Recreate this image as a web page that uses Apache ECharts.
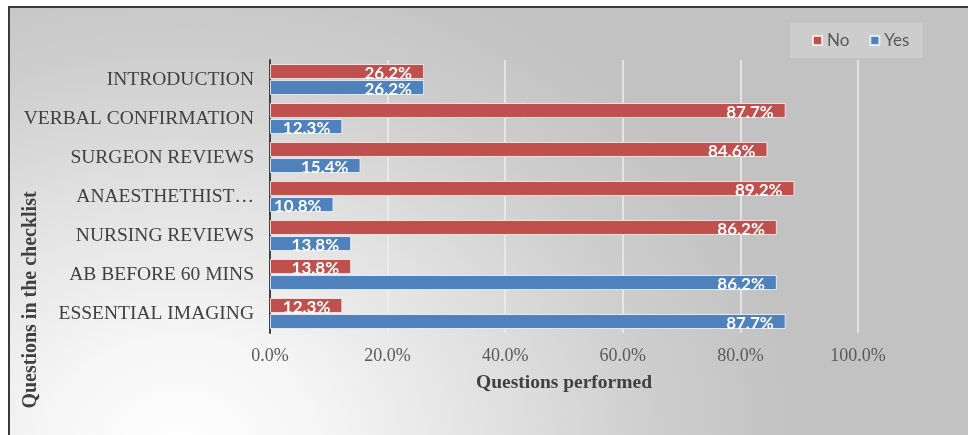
<!DOCTYPE html>
<html>
<head>
<meta charset="utf-8">
<script src="https://cdn.jsdelivr.net/npm/echarts@6/dist/echarts.min.js"></script>
<style>
html,body{margin:0;padding:0;width:968px;height:435px;overflow:hidden;background:#ffffff;}
#frame{position:absolute;left:8px;top:6px;width:980px;height:450px;border-left:2px solid #3a3a3a;border-top:2px solid #3a3a3a;
 background: radial-gradient(ellipse 620px 520px at 170px 445px, #ffffff 0%, #f6f6f6 22%, #e2e2e2 50%, #cdcdcd 78%, #c2c2c2 100%), #c2c2c2;}
#chart{position:absolute;left:0;top:0;width:968px;height:435px;}
</style>
</head>
<body>
<div id="frame"></div>
<div id="chart"></div>
<script>
const categories = ['INTRODUCTION','VERBAL CONFIRMATION','SURGEON REVIEWS','ANAESTHETHIST…','NURSING REVIEWS','AB BEFORE 60 MINS','ESSENTIAL IMAGING'];
const noValues  = [0.262, 0.877, 0.846, 0.892, 0.862, 0.138, 0.123];
const yesValues = [0.262, 0.123, 0.154, 0.108, 0.138, 0.862, 0.877];
const xTicks = [0, 0.2, 0.4, 0.6, 0.8, 1.0];

const pct = v => (v*100).toFixed(1) + '%';
const chart = echarts.init(document.getElementById('chart'), null, {renderer:'canvas'});
const labelStyle = {
  show:true, position:'insideRight', distance:12, offset:[0,2],
  color:'#ffffff', fontFamily:'Lato', fontWeight:'bold', fontSize:17,
  formatter: p => pct(p.value)
};
chart.setOption({
  backgroundColor:'transparent',
  animation:false,
  grid:{left:270, right:110, top:60, bottom:102, containLabel:false},
  legend:{
    data:['No','Yes'], left:790, top:23, orient:'horizontal',
    backgroundColor:'rgba(255,255,255,0.18)', padding:[9,13,9,22],
    icon:'rect', itemWidth:9, itemHeight:9, itemGap:20,
    textStyle:{fontFamily:'Lato', fontSize:17, color:'#595959'}
  },
  xAxis:{
    type:'value', min:xTicks[0], max:xTicks[xTicks.length-1], interval:0.2,
    axisLine:{show:false}, axisTick:{show:false},
    axisLabel:{formatter: v => pct(v), fontFamily:'Liberation Serif', fontSize:18, color:'#595959', margin:14},
    splitLine:{show:true, lineStyle:{color:'#eeeeee', width:1.5}}
  },
  yAxis:{
    type:'category', data:categories, inverse:true,
    axisLine:{show:true, lineStyle:{color:'#404040', width:2}},
    axisTick:{show:false},
    axisLabel:{fontFamily:'Liberation Serif', fontSize:19.5, color:'#404040', margin:16},
    splitLine:{show:false}
  },
  series:[
    {name:'No', type:'bar', data:noValues, barWidth:15, barGap:'7%',
     itemStyle:{color:'#C0504D', borderColor:'rgba(255,235,235,0.85)', borderWidth:1},
     label:labelStyle},
    {name:'Yes', type:'bar', data:yesValues, barWidth:15, barGap:'7%',
     itemStyle:{color:'#4F81BD', borderColor:'rgba(235,245,255,0.85)', borderWidth:1},
     label:labelStyle}
  ],
  graphic:[
    {type:'text', x:564, y:383, style:{text:'Questions performed', fontFamily:'Liberation Serif', fontWeight:'bold', fontSize:19.5, fill:'#404040', textAlign:'center', textVerticalAlign:'middle'}},
    {type:'text', x:31, y:300, rotation:Math.PI/2, style:{text:'Questions in the checklist', fontFamily:'Liberation Serif', fontWeight:'bold', fontSize:20, fill:'#404040', textAlign:'center', textVerticalAlign:'middle'}}
  ]
});
</script>
</body>
</html>
